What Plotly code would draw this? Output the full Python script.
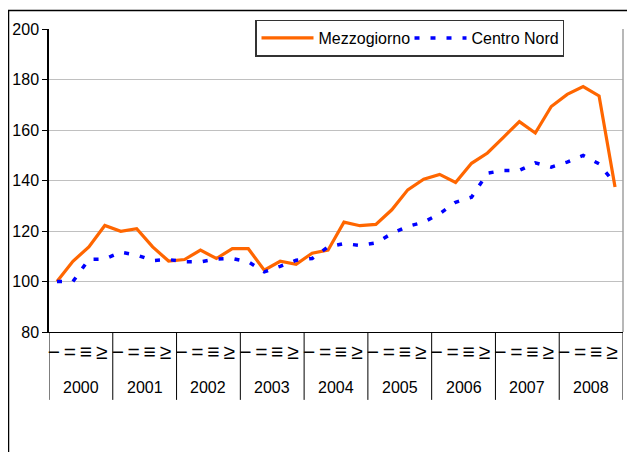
import plotly.graph_objects as go

years = ["2000", "2001", "2002", "2003", "2004", "2005", "2006", "2007", "2008"]
quarter_labels = ["−", "=", "≡", "≥"]

mezzogiorno = [100.0, 108.0, 113.7, 122.2, 119.9, 120.9, 113.7, 108.1, 108.7, 112.4,
               109.1, 113.0, 113.0, 104.5, 108.0, 106.8, 111.2, 112.4, 123.5, 122.1,
               122.6, 128.4, 136.3, 140.5, 142.4, 139.2, 146.8, 150.9, 157.1, 163.3,
               158.8, 169.3, 174.1, 177.2, 173.5, 137.4]
centro_nord = [100.0, 100.0, 108.8, 108.9, 111.6, 110.5, 108.3, 108.7, 107.8, 107.8,
               108.9, 109.1, 107.8, 103.8, 106.0, 108.4, 109.1, 113.7, 115.0, 114.3,
               115.3, 119.0, 121.8, 123.5, 126.8, 131.4, 133.4, 142.9, 144.0, 144.0,
               147.0, 145.3, 147.3, 149.9, 146.6, 138.7]

n = len(mezzogiorno)
xs = list(range(n))
tick_text = [quarter_labels[i % 4] for i in xs]

FONT = "Liberation Sans, Arial, sans-serif"

fig = go.Figure()
fig.add_trace(go.Scatter(x=xs, y=mezzogiorno, mode="lines", name="Mezzogiorno",
                         line=dict(color="#FF6600", width=3.2)))
fig.add_trace(go.Scatter(x=xs, y=centro_nord, mode="lines", name="Centro Nord",
                         line=dict(color="#0000FF", width=3.5, dash="5px,11px")))

# page body has an 8px offset; work in screenshot pixels and subtract it
OFF = 8
W, H = 635 - OFF, 452 - OFF
PL, PR, PT, PB = 49, 623, 28.5, 332  # plot area in screenshot pixels
L, R, T, B = PL - OFF, W - (PR - OFF), PT - OFF, H - (PB - OFF)
pw = W - L - R
ph = H - T - B

def px_to_paper_x(px):
    return (px - OFF - L) / pw

def px_to_paper_y(py):
    return (H - B - (py - OFF)) / ph

shapes = []
# year separators
for k in range(len(years) + 1):
    shapes.append(dict(type="line", xref="x", yref="paper",
                       x0=4 * k - 0.5, x1=4 * k - 0.5,
                       y0=0, y1=px_to_paper_y(400),
                       line=dict(color="#000000", width=1)))
# right plot border (gray)
shapes.append(dict(type="line", xref="paper", yref="paper", x0=1, x1=1, y0=0, y1=1,
                   line=dict(color="#A0A0A0", width=1.5)))
# outer chart border top & left
shapes.append(dict(type="line", xref="paper", yref="paper",
                   x0=px_to_paper_x(8), x1=px_to_paper_x(640), y0=px_to_paper_y(10), y1=px_to_paper_y(10),
                   line=dict(color="#000000", width=1.5)))
shapes.append(dict(type="line", xref="paper", yref="paper",
                   x0=px_to_paper_x(8.5), x1=px_to_paper_x(8.5), y0=px_to_paper_y(10), y1=px_to_paper_y(460),
                   line=dict(color="#000000", width=1.5)))

annotations = []
for k, yr in enumerate(years):
    annotations.append(dict(x=4 * k + 1.5, xref="x", y=px_to_paper_y(388), yref="paper",
                            text=yr, showarrow=False, yanchor="middle", xanchor="center",
                            font=dict(family=FONT, size=16, color="#000000")))

fig.update_layout(
    width=W, height=H,
    margin=dict(l=L, r=R, t=T, b=B, autoexpand=False),
    paper_bgcolor="white", plot_bgcolor="white",
    font=dict(family=FONT, size=14, color="#000000"),
    showlegend=True,
    legend=dict(orientation="h", x=px_to_paper_x(255), y=px_to_paper_y(19),
                xanchor="left", yanchor="top",
                bgcolor="white", bordercolor="#333333", borderwidth=1.5,
                font=dict(family=FONT, size=16, color="#000000"),
                entrywidth=86, entrywidthmode="pixels",
                itemwidth=52, tracegroupgap=0),
    xaxis=dict(range=[-0.5, n - 0.5], tickmode="array", tickvals=xs, ticktext=tick_text,
               showgrid=False, zeroline=False, showline=True, linecolor="#000000", linewidth=1,
               ticks="", tickfont=dict(family=FONT, size=21, color="#000000"),
               ticklabelstandoff=1, ticklabelshift=-3),
    yaxis=dict(range=[80, 200], tickmode="array", tickvals=[80, 100, 120, 140, 160, 180, 200],
               showgrid=True, gridcolor="#C0C0C0", gridwidth=1, zeroline=False,
               showline=True, linecolor="#000000", linewidth=1.5,
               ticks="outside", ticklen=5, tickcolor="#000000",
               tickfont=dict(family=FONT, size=16, color="#000000")),
    shapes=shapes,
    annotations=annotations,
)

fig.write_html("out.html")
